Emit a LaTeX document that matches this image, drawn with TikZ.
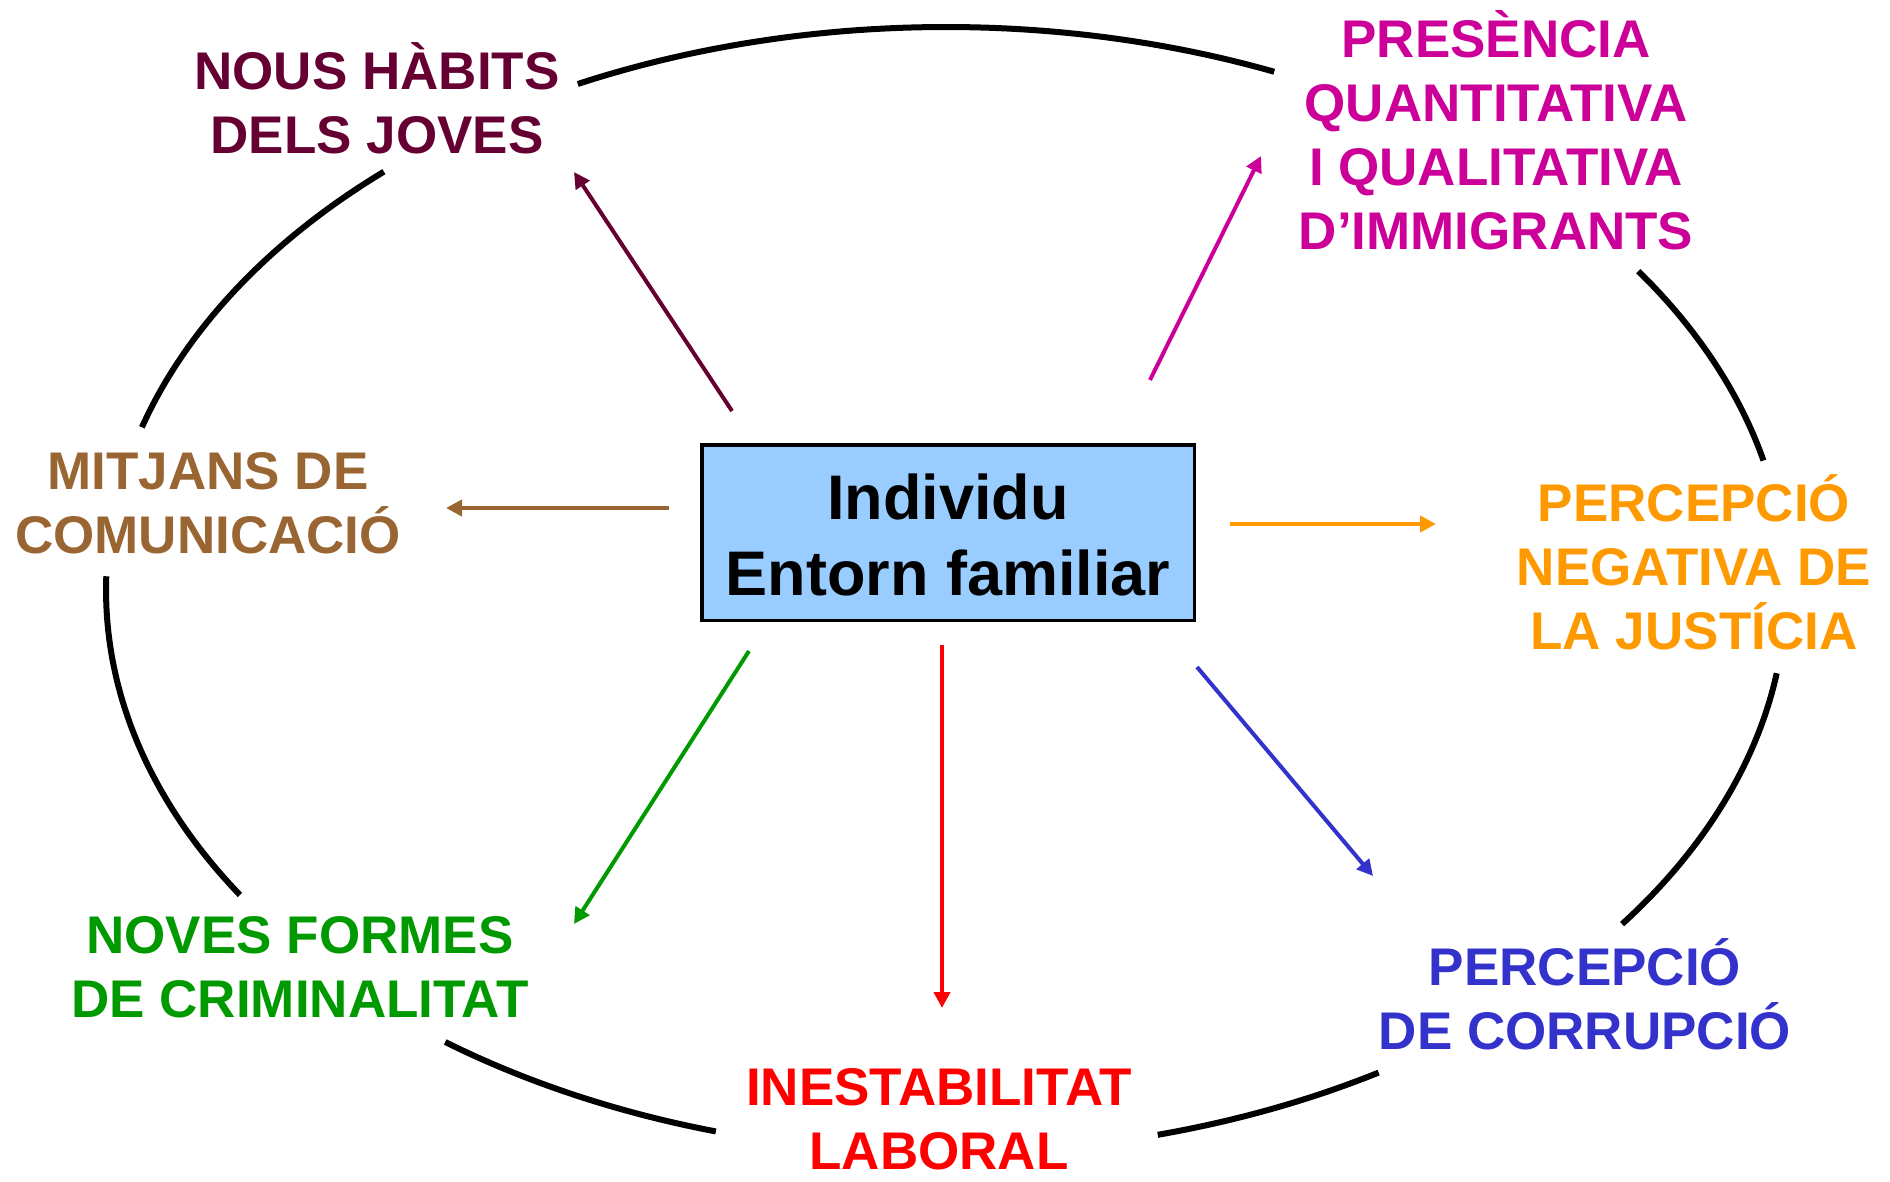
\documentclass[tikz,border=0pt]{standalone}
\usepackage{fontspec}
\setmainfont{Liberation Sans}
\usetikzlibrary{arrows.meta}
\definecolor{cmaroon}{HTML}{660033}
\definecolor{cmagenta}{HTML}{CC0099}
\definecolor{cbrown}{HTML}{996633}
\definecolor{corange}{HTML}{FF9900}
\definecolor{cgreen}{HTML}{009900}
\definecolor{cred}{HTML}{FF0000}
\definecolor{cblue}{HTML}{3333CC}
\definecolor{cbox}{HTML}{99CCFF}
\newcommand\lblstrut{\rule[-14pt]{0pt}{64pt}}
\newcommand\lastlinestrut{\rule{0pt}{50pt}}
\newcommand\boxstrut{\rule[-12.9pt]{0pt}{76pt}}
\tikzset{
  lbl/.style={align=center, inner sep=0pt, font=\fontsize{53}{64}\selectfont\bfseries},
  centerbox/.style={draw=black, line width=3.5pt, fill=cbox, align=center, inner sep=0pt,
    minimum width=492.5pt, minimum height=175.5pt, font=\fontsize{63}{76}\selectfont\bfseries},
  arr/.style={line width=4pt, -{Triangle[length=16pt,width=16pt]}},
  ring/.style={line width=6pt}
}
\begin{document}
\begin{tikzpicture}[x=1pt,y=-1pt]
\useasboundingbox (0,0) rectangle (1890,1181);

% ring segments
\foreach \a/\b in {67/116, 132/163.2, 178.6/212.8, 233.4/254.1, 284.6/301, 323.6/351.5, 13.3/34.5}{
  \draw[ring] plot[domain=\a:\b, samples=50, variable=\t] ({946+840*cos(\t)},{590-563*sin(\t)});
}

% central box
\node[centerbox] (center) at (948,532.5) {\boxstrut Individu\\\boxstrut Entorn familiar};

% labels
\node[lbl, text=cmaroon] (nous) at (377,103.5) {\lblstrut NOUS HÀBITS\\\lblstrut DELS JOVES};
\node[lbl, text=cmagenta] (pres) at (1496,135) {\lblstrut PRESÈNCIA\\\lblstrut QUANTITATIVA\\\lblstrut I QUALITATIVA\\\lblstrut D’IMMIGRANTS};
\node[lbl, text=cbrown] (mitj) at (208,503.5) {\lblstrut MITJANS DE\\\lblstrut COMUNICACIÓ};
\node[lbl, text=corange] (perc) at (1694,567.5) {\lblstrut PERCEPCIÓ\\\lblstrut NEGATIVA DE\\\lblstrut LA JUSTÍCIA};
\node[lbl, text=cgreen] (nove) at (300,967) {\lblstrut NOVES FORMES\\\lblstrut DE CRIMINALITAT};
\node[lbl, text=cred] (ines) at (939,1113) {\lblstrut INESTABILITAT\\\lastlinestrut LABORAL};
\node[lbl, text=cblue] (corr) at (1585,999) {\lblstrut PERCEPCIÓ\\\lblstrut DE CORRUPCIÓ};

% arrow end points
\coordinate (nousS) at (732,411);   \coordinate (nousE) at (574,172);
\coordinate (presS) at (1150,380);  \coordinate (presE) at (1261,156);
\coordinate (mitjS) at (669,508);   \coordinate (mitjE) at (446,508);
\coordinate (percS) at (1230,524);  \coordinate (percE) at (1436,524);
\coordinate (noveS) at (749,651);   \coordinate (noveE) at (574,924);
\coordinate (inesS) at (942,645);   \coordinate (inesE) at (942,1008);
\coordinate (corrS) at (1197,667);  \coordinate (corrE) at (1373,876);

\draw[arr, cmaroon] (nousS) -- (nousE);
\draw[arr, cmagenta] (presS) -- (presE);
\draw[arr, cbrown] (mitjS) -- (mitjE);
\draw[arr, corange] (percS) -- (percE);
\draw[arr, cgreen] (noveS) -- (noveE);
\draw[arr, cred] (inesS) -- (inesE);
\draw[arr, cblue] (corrS) -- (corrE);
\end{tikzpicture}
\end{document}
